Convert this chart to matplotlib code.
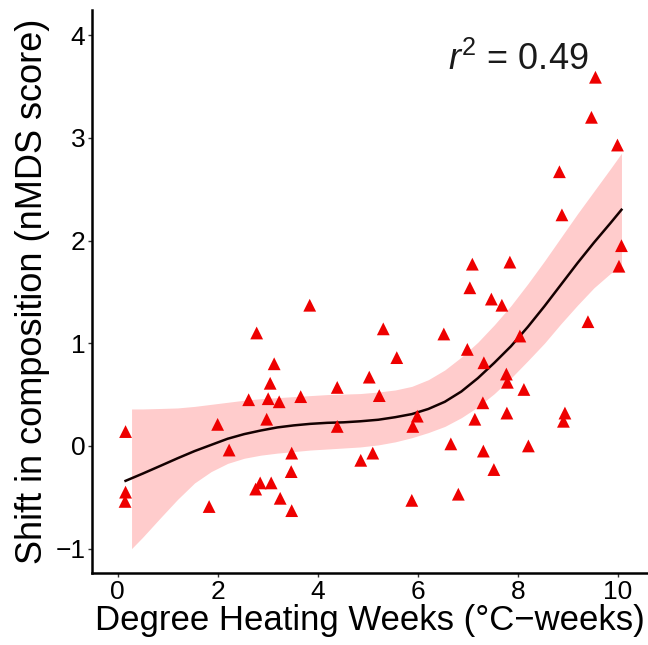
import numpy as np
import matplotlib
matplotlib.use("Agg")
import matplotlib.pyplot as plt

plt.rcParams['font.family'] = ['Liberation Sans', 'DejaVu Sans']
plt.rcParams['mathtext.fontset'] = 'custom'
plt.rcParams['mathtext.rm'] = 'Liberation Sans'
plt.rcParams['mathtext.it'] = 'Liberation Sans:italic'

# degree heating weeks vs shift in nMDS score
dhw = [0.16, 0.16, 0.15, 1.83, 2.00, 2.23, 2.62, 2.78, 2.76, 2.85,
       2.98, 3.01, 3.05, 3.07, 3.13, 3.23, 3.25, 3.47, 3.48, 3.48,
       3.66, 3.84, 4.39, 4.39, 4.86, 5.03, 5.10, 5.23, 5.31, 5.58,
       5.88, 5.90, 5.99, 6.52, 6.66, 6.81, 6.99, 7.04, 7.14, 7.30,
       7.31, 7.32, 7.47, 7.52, 7.68, 7.77, 7.79, 7.78, 8.04, 8.12,
       8.21, 8.94, 8.91, 9.40, 9.55, 9.47, 9.99, 8.83, 8.88, 10.07,
       10.02, 7.09, 7.84]
shift = [0.14, -0.45, -0.54, -0.59, 0.21, -0.04, 0.45, 1.10, -0.42, -0.36,
         0.26, 0.46, 0.61, -0.36, 0.80, 0.43, -0.51, -0.25, -0.07, -0.63,
         0.48, 1.37, 0.57, 0.19, -0.14, 0.67, -0.07, 0.49, 1.14, 0.86,
         -0.53, 0.19, 0.29, 1.09, 0.02, -0.47, 0.94, 1.54, 0.26, 0.42,
         -0.05, 0.81, 1.43, -0.23, 1.37, 0.70, 0.62, 0.32, 1.07, 0.55,
         0.00, 0.32, 0.24, 1.21, 3.59, 3.20, 2.93, 2.67, 2.25, 1.95,
         1.75, 1.77, 1.79]

# smoother and its 95% band
fit_x = [0.16, 0.5, 0.875, 1.2, 1.54, 1.87, 2.20, 2.53, 2.86, 3.19,
         3.52, 3.85, 4.19, 4.52, 4.85, 5.21, 5.55, 5.88, 6.21, 6.54,
         6.87, 7.20, 7.53, 7.86, 8.20, 8.53, 8.86, 9.19, 9.52, 9.85, 10.07]
fit_y = [-0.34, -0.27, -0.19, -0.12, -0.05, 0.01, 0.07, 0.115, 0.15, 0.18,
         0.20, 0.215, 0.225, 0.23, 0.24, 0.255, 0.28, 0.31, 0.36, 0.43,
         0.53, 0.66, 0.81, 0.97, 1.16, 1.36, 1.57, 1.78, 1.98, 2.17, 2.30]
band_x = [0.28, 0.5, 0.875, 1.2, 1.54, 1.87, 2.20, 2.53, 2.86, 3.19,
          3.52, 3.85, 4.19, 4.52, 4.85, 5.21, 5.55, 5.88, 6.21, 6.54,
          6.87, 7.20, 7.53, 7.86, 8.20, 8.53, 8.86, 9.19, 9.52, 9.85, 10.07]
band_hi = [0.36, 0.36, 0.365, 0.37, 0.385, 0.405, 0.425, 0.445, 0.46, 0.47,
           0.48, 0.49, 0.50, 0.505, 0.51, 0.525, 0.545, 0.58, 0.645, 0.74,
           0.865, 1.01, 1.18, 1.365, 1.58, 1.80, 2.03, 2.26, 2.48, 2.70, 2.85]
band_lo = [-1.00, -0.89, -0.69, -0.52, -0.36, -0.25, -0.17, -0.12, -0.09, -0.07,
           -0.055, -0.04, -0.03, -0.02, -0.01, 0.01, 0.04, 0.08, 0.13, 0.19,
           0.275, 0.38, 0.51, 0.66, 0.83, 1.00, 1.19, 1.37, 1.54, 1.68, 1.76]
r2_label = "0.49"

fig = plt.figure(figsize=(6.48, 6.45), dpi=100)
ax = fig.add_axes([0.1424, 0.1112, 0.8576, 0.8733])

ax.fill_between(band_x, band_lo, band_hi, color=(1.0, 0.8, 0.8), lw=0, zorder=1)
ax.plot(fit_x, fit_y, color='#140000', lw=1.8, zorder=2, solid_joinstyle='round')
ax.scatter(dhw, shift, marker='^', s=85, color='#ee0000', edgecolors='none', zorder=3)

ax.text(6.6, 3.76, r'$r^2$ = ' + r2_label, fontsize=26, ha='left', va='center', color='#1a1a1a')

ax.set_xlim(-0.505, 10.6)
ax.set_ylim(-1.24, 4.245)
ax.set_xticks([0, 2, 4, 6, 8, 10])
ax.set_yticks([-1, 0, 1, 2, 3, 4])
ax.set_yticklabels(['\u22121', '0', '1', '2', '3', '4'])

for side in ['top', 'right']:
    ax.spines[side].set_visible(False)
for side in ['left', 'bottom']:
    ax.spines[side].set_linewidth(1.8)
    ax.spines[side].set_color('black')

ax.tick_params(labelsize=19, length=3, width=1, color='#333333', labelcolor='black', pad=2)
ax.set_xlabel('Degree Heating Weeks (\u00b0C\u2212weeks)', fontsize=25, labelpad=0)
ax.set_ylabel('Shift in composition (nMDS score)', fontsize=26, labelpad=4)

fig.savefig('out.png', dpi=100)
